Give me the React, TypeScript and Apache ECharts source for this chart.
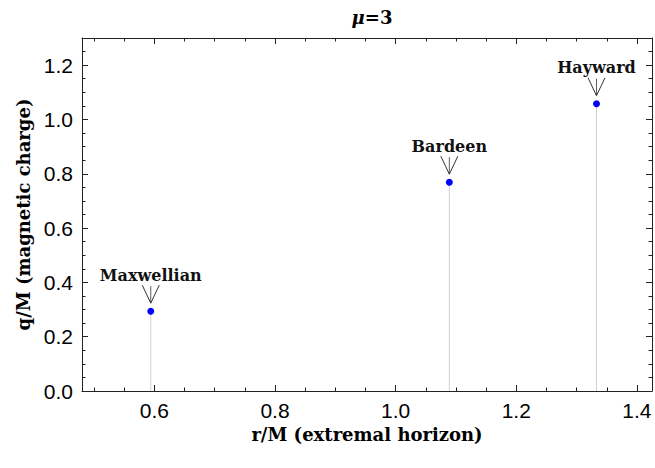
import React, { useEffect, useRef } from "react";
import * as echarts from "echarts";

const pointNames = ["Maxwellian", "Bardeen", "Hayward"];
const rValues = [0.594, 1.089, 1.333];
const qValues = [0.294, 0.769, 1.058];

const xMin = 0.48;
const xMax = 1.425;
const yMin = 0;
const yMax = 1.3;

const isMajor = (v: number) => Math.abs(v / 0.2 - Math.round(v / 0.2)) < 1e-6;
const fmt = (v: number) => (isMajor(v) ? v.toFixed(1) : "");

export default function App() {
  const ref = useRef<HTMLDivElement>(null);
  useEffect(() => {
    document.body.style.margin = "0";
    const chart = echarts.init(ref.current!, null, { renderer: "svg" });
    const data = rValues.map((r, i) => [r, qValues[i], pointNames[i]]);
    const frame = { lineStyle: { color: "#222", width: 1 } };
    const tick = { show: true, inside: true, length: 6, lineStyle: { color: "#222", width: 1 } };
    const minor = { show: true, splitNumber: 4, length: 3.5, lineStyle: { color: "#222", width: 1 } };
    const labelFont = { fontFamily: "Liberation Sans", fontSize: 21, color: "#000" };
    const nameFont = { fontFamily: "DejaVu Serif", fontWeight: "bold", fontSize: 18, color: "#000" };
    chart.setOption({
      animation: false,
      backgroundColor: "#fff",
      title: {
        text: "{i|μ}=3",
        left: 367,
        textAlign: "center",
        top: 3,
        textStyle: {
          fontFamily: "DejaVu Serif",
          fontSize: 18,
          fontWeight: "bold",
          color: "#000",
          rich: { i: { fontFamily: "DejaVu Serif", fontStyle: "italic", fontWeight: "bold", fontSize: 18, color: "#000" } },
        },
      },
      grid: { left: 82, right: 3, top: 38, bottom: 77 },
      xAxis: [
        {
          type: "value",
          min: xMin,
          max: xMax,
          splitNumber: 5,
          position: "bottom",
          axisLine: { show: true, onZero: false, ...frame },
          axisTick: tick,
          minorTick: minor,
          splitLine: { show: false },
          axisLabel: { ...labelFont, margin: 9, formatter: fmt },
          name: "r/M (extremal horizon)",
          nameLocation: "middle",
          nameGap: 32,
          nameTextStyle: nameFont,
        },
        {
          type: "value",
          min: xMin,
          max: xMax,
          splitNumber: 5,
          position: "top",
          axisLine: { show: true, onZero: false, ...frame },
          axisTick: tick,
          minorTick: minor,
          splitLine: { show: false },
          axisLabel: { show: false },
        },
      ],
      yAxis: [
        {
          type: "value",
          min: yMin,
          max: yMax,
          interval: 0.2,
          position: "left",
          axisLine: { show: true, onZero: false, ...frame },
          axisTick: tick,
          minorTick: minor,
          splitLine: { show: false },
          axisLabel: { ...labelFont, margin: 9, formatter: fmt },
          name: "q/M (magnetic charge)",
          nameLocation: "middle",
          nameGap: 48,
          nameTextStyle: nameFont,
        },
        {
          type: "value",
          min: yMin,
          max: yMax,
          interval: 0.2,
          position: "right",
          axisLine: { show: true, onZero: false, ...frame },
          axisTick: tick,
          minorTick: minor,
          splitLine: { show: false },
          axisLabel: { show: false },
        },
      ],
      series: [
        {
          type: "custom",
          xAxisIndex: 0,
          yAxisIndex: 0,
          z: 2,
          data,
          renderItem: (params: any, api: any) => {
            const x = api.value(0);
            const y = api.value(1);
            const name = pointNames[params.dataIndex];
            const p0 = api.coord([x, 0]);
            const p1 = api.coord([x, y]);
            const ax = p1[0];
            const tipY = p1[1] - 8;
            return {
              type: "group",
              children: [
                {
                  type: "line",
                  shape: { x1: p0[0], y1: p0[1], x2: p1[0], y2: p1[1] },
                  style: { stroke: "#cfcfcf", lineWidth: 1 },
                },
                {
                  type: "line",
                  shape: { x1: ax, y1: tipY, x2: ax, y2: tipY - 17 },
                  style: { stroke: "#333", lineWidth: 0.8 },
                },
                {
                  type: "polyline",
                  shape: { points: [[ax - 8.5, tipY - 18], [ax, tipY], [ax + 8.5, tipY - 18]] },
                  style: { stroke: "#333", lineWidth: 1, fill: "none" },
                },
                {
                  type: "text",
                  x: ax,
                  y: p1[1] - 36,
                  style: {
                    text: name,
                    align: "center",
                    verticalAlign: "middle",
                    fontFamily: "DejaVu Serif",
                    fontWeight: "bold",
                    fontSize: 16,
                    fill: "#111",
                  },
                },
              ],
            };
          },
        },
        {
          type: "scatter",
          xAxisIndex: 0,
          yAxisIndex: 0,
          z: 5,
          symbol: "circle",
          symbolSize: 7,
          itemStyle: { color: "#0000ff", opacity: 1 },
          emphasis: { disabled: true },
          data,
        },
      ],
    });
    return () => chart.dispose();
  }, []);
  return <div ref={ref} style={{ width: 655, height: 468 }} />;
}
